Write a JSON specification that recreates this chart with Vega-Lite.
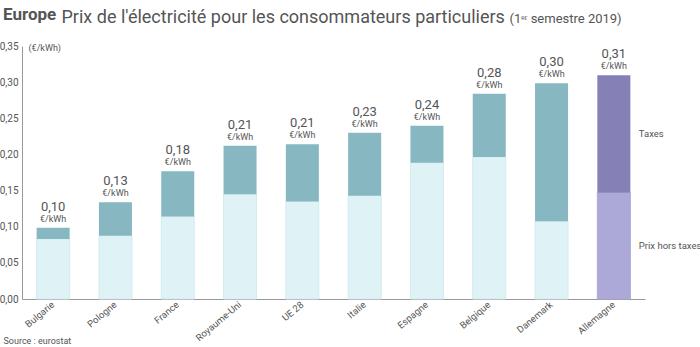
{
  "$schema": "https://vega.github.io/schema/vega-lite/v6.json",
  "width": 623,
  "height": 253,
  "autosize": {"type": "none"},
  "padding": {"left": 22, "top": 46, "right": 55, "bottom": 48},
  "title": {"text": "Europe", "anchor": "start", "frame": "group", "dx": -19, "dy": 20, "fontSize": 17, "fontWeight": "bold", "color": "#555555", "font": "Roboto"},
  "config": {
    "locale": {"number": {"decimal": ",", "thousands": " ", "grouping": [3], "currency": ["", " €"]}},
    "view": {"stroke": null},
    "font": "Roboto",
    "text": {"font": "Roboto", "color": "#555555"}
  },
  "data": {"values": [
    {"pays": "Bulgarie", "base": 0.083, "total": 0.0986},
    {"pays": "Pologne", "base": 0.0876, "total": 0.134},
    {"pays": "France", "base": 0.114, "total": 0.1766},
    {"pays": "Royaume-Uni", "base": 0.145, "total": 0.212},
    {"pays": "UE 28", "base": 0.135, "total": 0.214},
    {"pays": "Italie", "base": 0.143, "total": 0.23},
    {"pays": "Espagne", "base": 0.1885, "total": 0.2397},
    {"pays": "Belgique", "base": 0.1964, "total": 0.284},
    {"pays": "Danemark", "base": 0.1075, "total": 0.2983},
    {"pays": "Allemagne", "base": 0.147, "total": 0.3094}
  ]},
  "layer": [
    {
      "mark": {"type": "bar", "strokeWidth": 1},
      "encoding": {
        "x": {"field": "pays", "type": "nominal", "sort": null,
          "scale": {"paddingInner": 0.47, "paddingOuter": 0.235},
          "axis": {"orient": "bottom", "labelAngle": -40, "labelAlign": "right", "labelBaseline": "middle", "ticks": false, "labelPadding": 4, "labelFontSize": 9.5, "labelColor": "#555555", "domainColor": "#999999",
            "title": "Source : eurostat", "titleFontSize": 9, "titleFontWeight": "normal", "titleColor": "#555555", "titleAnchor": "start", "titleAlign": "left", "titleX": -19, "titleY": 44, "titleBaseline": "alphabetic"}},
        "y": {"field": "base", "type": "quantitative", "scale": {"domain": [0, 0.35], "nice": false},
          "axis": {"orient": "left", "format": ".2f", "values": [0, 0.05, 0.1, 0.15, 0.2, 0.25, 0.3, 0.35], "grid": false, "ticks": false, "labelPadding": 4, "labelFontSize": 10, "labelColor": "#555555", "domainColor": "#999999",
            "title": "(€/kWh)", "titleAngle": 0, "titleX": 6, "titleY": 1, "titleAlign": "left", "titleBaseline": "middle", "titleFontSize": 9, "titleFontWeight": "normal", "titleColor": "#555555"}},
        "color": {"condition": {"test": "datum.pays === 'Allemagne'", "value": "#aca8d8"}, "value": "#dff3f6"},
        "stroke": {"condition": {"test": "datum.pays === 'Allemagne'", "value": "#aca8d8"}, "value": "#d3ebf0"}
      }
    },
    {
      "mark": {"type": "bar"},
      "encoding": {
        "x": {"field": "pays", "type": "nominal", "sort": null, "axis": null},
        "y": {"field": "base", "type": "quantitative", "axis": null},
        "y2": {"field": "total"},
        "color": {"condition": {"test": "datum.pays === 'Allemagne'", "value": "#8580b6"}, "value": "#87b8c2"}
      }
    },
    {
      "mark": {"type": "text", "baseline": "alphabetic", "dy": -17, "fontSize": 13},
      "encoding": {
        "x": {"field": "pays", "type": "nominal", "sort": null, "axis": null},
        "y": {"field": "total", "type": "quantitative", "axis": null},
        "text": {"field": "total", "type": "quantitative", "format": ".2f"}
      }
    },
    {
      "mark": {"type": "text", "baseline": "alphabetic", "dy": -6, "fontSize": 9, "text": "€/kWh"},
      "encoding": {
        "x": {"field": "pays", "type": "nominal", "sort": null,
          "axis": {"orient": "top", "labels": false, "ticks": false, "domain": false, "grid": false,
            "title": "Prix de l'électricité pour les consommateurs particuliers", "titleFontSize": 18, "titleFontWeight": "normal", "titleColor": "#555555", "titleAnchor": "start", "titleAlign": "left", "titleX": 39, "titleY": -24, "titleBaseline": "alphabetic"}},
        "y": {"field": "total", "type": "quantitative", "axis": null}
      }
    },
    {
      "transform": [{"filter": "datum.pays === 'Allemagne'"}, {"calculate": "(datum.base + datum.total) / 2", "as": "mid"}],
      "mark": {"type": "text", "align": "left", "baseline": "middle", "dx": 25, "fontSize": 9.5, "text": "Taxes"},
      "encoding": {
        "x": {"field": "pays", "type": "nominal", "sort": null, "axis": null},
        "y": {"field": "mid", "type": "quantitative",
          "axis": {"orient": "right", "labels": false, "ticks": false, "domain": false, "grid": false,
            "title": "(1ᵉʳ semestre 2019)", "titleAngle": 0, "titleFontSize": 13, "titleFontWeight": "normal", "titleColor": "#555555", "titleAlign": "left", "titleX": -136, "titleY": -24, "titleBaseline": "alphabetic"}}
      }
    },
    {
      "transform": [{"filter": "datum.pays === 'Allemagne'"}, {"calculate": "datum.base / 2", "as": "mid"}],
      "mark": {"type": "text", "align": "left", "baseline": "middle", "dx": 25, "fontSize": 9.5, "text": "Prix hors taxes"},
      "encoding": {
        "x": {"field": "pays", "type": "nominal", "sort": null, "axis": null},
        "y": {"field": "mid", "type": "quantitative", "axis": null}
      }
    }
  ],
  "resolve": {"axis": {"x": "independent", "y": "independent"}}
}
